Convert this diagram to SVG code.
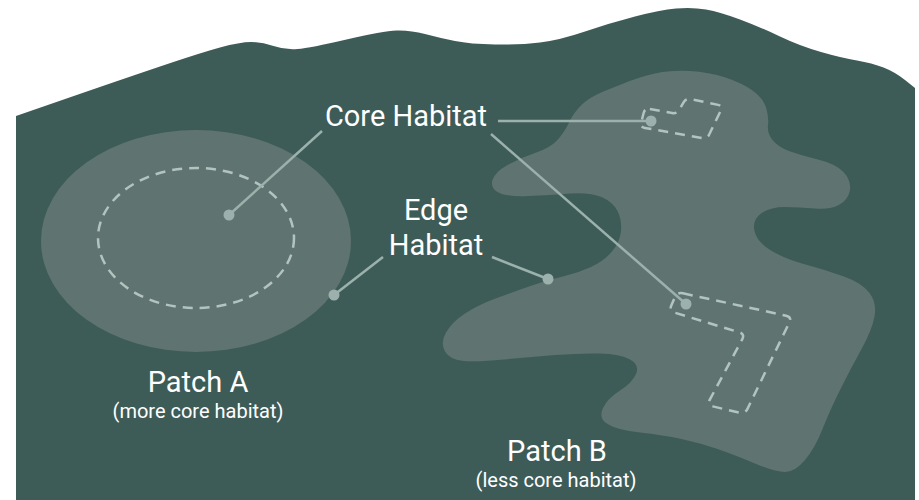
<svg xmlns="http://www.w3.org/2000/svg" width="919" height="500" viewBox="0 0 919 500">
  <style>
    .land { fill: #3d5c58; }
    .patch { fill: #5f7470; }
    .core { fill: none; stroke: #b3c3bf; stroke-width: 2.5; stroke-dasharray: 10 7; stroke-linecap: butt; stroke-linejoin: round; }
    .conn { fill: none; stroke: #9cb1ac; stroke-width: 2.5; }
    .dot { fill: #9cb1ac; }
    .lbl { font-family: Roboto, "Noto Sans", sans-serif; fill: #ffffff; text-anchor: middle; }
    .big { font-size: 29px; }
    .small { font-size: 20px; }
  </style>
  <rect width="919" height="500" fill="#ffffff"/>
  <g id="landscape">
    <path class="land" d="M16,500 L16,116 L68,98 Q120,80 160,66.5 Q200,53 220,47.5 Q240,42 251,42 Q262,42 273.5,46 Q285,50 297.5,49 Q310,48 346.5,39.5 Q383,31 396.5,30.5 Q410,30 425,34 Q440,38 455,41 Q470,44 495,44.5 Q520,45 540,42.5 Q560,40 585,31.5 Q610,23 635,16.5 Q660,10 676,8.5 Q692,7 706,9.5 Q720,12 740,19.5 Q760,27 780,36.5 Q800,46 821,52 Q842,58 857,60.5 Q872,63 883.5,67.5 Q895,72 905,80 L915,88 L915,500 Z"/>
  </g>
  <g id="patch-a">
    <ellipse class="patch" cx="196" cy="241" rx="155" ry="111"/>
    <ellipse class="core" cx="196" cy="238" rx="98" ry="70"/>
    <text class="lbl big" x="198" y="392">Patch A</text>
    <text class="lbl small" x="198" y="418">(more core habitat)</text>
  </g>
  <g id="patch-b">
    <path class="patch" d="M655,73.5 Q670,70 689.5,71 Q709,72 725.5,77.5 Q742,83 752.5,90.5 Q763,98 766,107.5 Q769,117 768,125 Q767,133 772.5,140 Q778,147 789,151 Q800,155 818,159.5 Q836,164 843.5,172 Q851,180 850,189.5 Q849,199 839.5,204.5 Q830,210 815,208.5 Q800,207 785,207 Q770,207 761,213.5 Q752,220 754.5,231 Q757,242 771,250.5 Q785,259 805.5,264.5 Q826,270 844,276.5 Q862,283 869.5,293 Q877,303 874.5,316.5 Q872,330 861.5,349 Q851,368 840.5,389 Q830,410 822.5,429 Q815,448 805,460 Q795,472 785,472 Q775,472 755,463.5 Q735,455 717.5,449 Q700,443 681.5,439 Q663,435 640,432.5 Q617,430 607.5,424 Q598,418 603,408 Q608,398 620,390.5 Q632,383 636,374 Q640,365 630,359.5 Q620,354 600,353.5 Q580,353 555,355 Q530,357 504,359.5 Q478,362 464,361 Q450,360 445,351.5 Q440,343 446,332.5 Q452,322 465,313.5 Q478,305 495.5,298.5 Q513,292 530.5,286 Q548,280 563,276.5 Q578,273 591,267 Q604,261 612,251.5 Q620,242 621,231 Q622,220 617.5,211 Q613,202 601.5,197 Q590,192 570,193.5 Q550,195 528.5,196 Q507,197 498.5,192.5 Q490,188 492.5,180 Q495,172 507.5,165 Q520,158 535,153 Q550,148 557,140.5 Q564,133 569,122.5 Q574,112 582,104.5 Q590,97 603.5,91.5 Q617,86 628.5,81.5 Q640,77 655,73.5 Z"/>
    <path class="core" d="M649.9,108.9 L672.1,113.1 Q677,114 679.4,109.7 L683.6,102.3 Q686,98 690.9,99.1 L718.1,104.9 Q723,106 720.8,110.5 L709.2,134.5 Q707,139 702.1,138.1 L644.9,127.9 Q640,127 641.3,122.2 L643.7,112.8 Q645,108 649.9,108.9 Z"/>
    <path class="core" d="M682.9,293.3 L786.1,315.7 Q792,317 789.4,322.4 L747.6,408.6 Q745,414 739.2,412.6 L712.8,406.4 Q707,405 709.8,399.7 L742.2,339.3 Q745,334 739.3,332.3 L674.7,312.7 Q669,311 671.3,305.5 L674.7,297.5 Q677,292 682.9,293.3 Z"/>
    <text class="lbl big" x="557" y="461">Patch B</text>
    <text class="lbl small" x="556" y="487">(less core habitat)</text>
  </g>
  <g id="label-core">
    <text class="lbl big" x="406" y="126">Core Habitat</text>
  </g>
  <g id="label-edge">
    <text class="lbl big" x="436" y="220">Edge</text>
    <text class="lbl big" x="436" y="255">Habitat</text>
  </g>
  <g id="connectors">
    <line class="conn" x1="322" y1="131" x2="229" y2="215"/>
    <line class="conn" x1="498" y1="121" x2="651" y2="121"/>
    <line class="conn" x1="491" y1="134" x2="686" y2="304"/>
    <line class="conn" x1="383" y1="257" x2="334" y2="295"/>
    <line class="conn" x1="492" y1="257" x2="548" y2="279"/>
    <circle class="dot" cx="229" cy="215" r="5.5"/>
    <circle class="dot" cx="651" cy="121" r="5.5"/>
    <circle class="dot" cx="686" cy="304" r="5.5"/>
    <circle class="dot" cx="334" cy="295" r="5.5"/>
    <circle class="dot" cx="548" cy="279" r="5.5"/>
  </g>
</svg>
